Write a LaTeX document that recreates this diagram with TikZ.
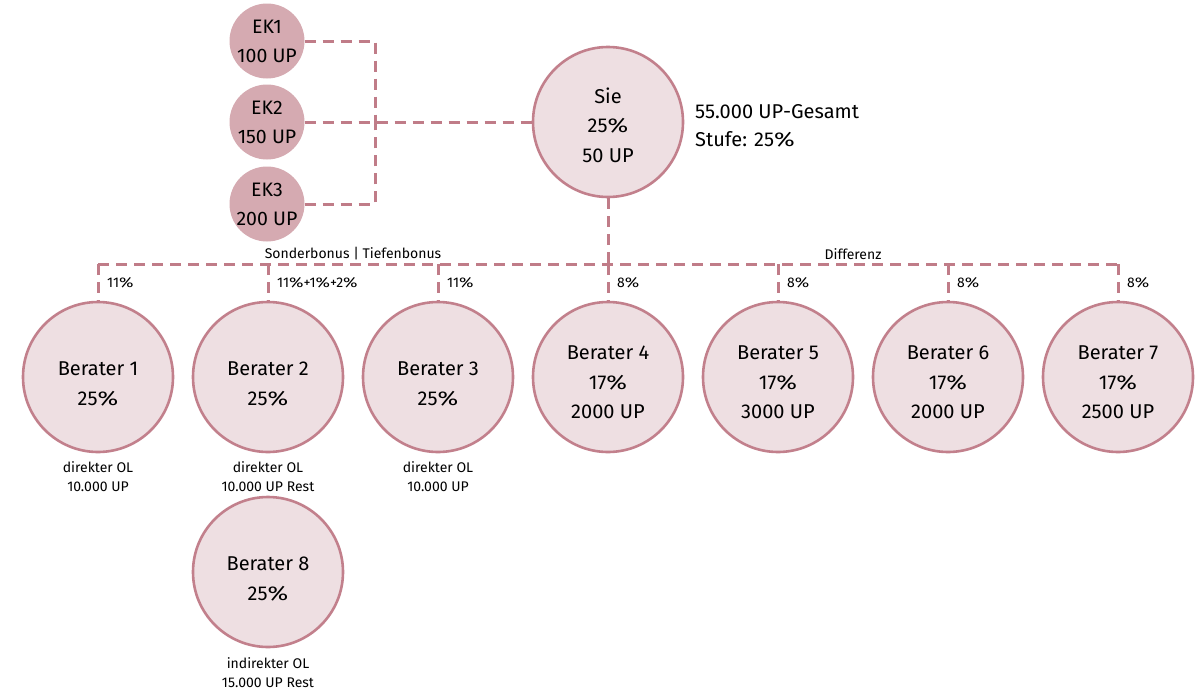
\documentclass[tikz,border=0pt]{standalone}
\usepackage{fontspec}
\setmainfont{Fira Sans}
\newcommand\pcsign{\scalebox{1.25}[1]{\%}}
\definecolor{rimc}{RGB}{194,128,140}
\definecolor{linec}{RGB}{192,124,136}
\definecolor{ekfill}{RGB}{213,170,177}
\definecolor{lightfill}{RGB}{238,223,226}
\begin{document}
\begin{tikzpicture}[x=1pt,y=-1pt,
  bigc/.style={circle,minimum size=150pt,inner sep=0pt,draw=rimc,line width=2.6pt,fill=lightfill},
  bigt/.style={align=center,inner sep=0pt,font=\fontsize{20}{29.5}\selectfont},
  ekc/.style={circle,minimum size=75pt,inner sep=0pt,fill=ekfill,align=center,
    font=\fontsize{19.5}{29}\selectfont},
  conn/.style={draw=linec,line width=3pt,dash pattern=on 11pt off 7pt},
  pct/.style={anchor=west,inner sep=0pt,font=\fontsize{14}{17}\selectfont},
  under/.style={align=center,inner sep=0pt,font=\fontsize{14}{19}\selectfont},
  info/.style={anchor=west,inner sep=0pt,font=\fontsize{20}{28}\selectfont,align=left}]
\useasboundingbox (0,0) rectangle (1200,691);

% EK nodes
\node[ekc] (ek1) at (267,41) {EK1\\100 UP};
\node[ekc] (ek2) at (267,122) {EK2\\150 UP};
\node[ekc] (ek3) at (267,204) {EK3\\200 UP};

% Sie
\node[bigc] (sie) at (608,122) {};
\node[bigt] (siet) at ([yshift=-3pt]sie.center) {Sie\\25\pcsign\\50 UP};
\node[info] (total) at (695,126) {55.000 UP-Gesamt\\Stufe: 25\pcsign};

% junction
\coordinate (j) at (375,122);
\draw[conn] (ek1.east) -| (j);
\draw[conn] (ek3.east) -| (j);
\draw[conn] (ek2.east) -- (sie.west);

% Berater circles
\node[bigc] (b1) at (98,377) {};
\node[bigc] (b2) at (268,377) {};
\node[bigc] (b3) at (438,377) {};
\node[bigc] (b4) at (608,377) {};
\node[bigc] (b5) at (778,377) {};
\node[bigc] (b6) at (948,377) {};
\node[bigc] (b7) at (1118,377) {};
\node[bigc] (b8) at (268,572) {};

% Berater texts
\node[bigt] (b1t) at ([yshift=-7pt]b1.center) {Berater 1\\25\pcsign};
\node[bigt] (b2t) at ([yshift=-7pt]b2.center) {Berater 2\\25\pcsign};
\node[bigt] (b3t) at ([yshift=-7pt]b3.center) {Berater 3\\25\pcsign};
\node[bigt] (b4t) at ([yshift=-5.5pt]b4.center) {Berater 4\\17\pcsign\\2000 UP};
\node[bigt] (b5t) at ([yshift=-5.5pt]b5.center) {Berater 5\\17\pcsign\\3000 UP};
\node[bigt] (b6t) at ([yshift=-5.5pt]b6.center) {Berater 6\\17\pcsign\\2000 UP};
\node[bigt] (b7t) at ([yshift=-5.5pt]b7.center) {Berater 7\\17\pcsign\\2500 UP};
\node[bigt] (b8t) at ([yshift=-7pt]b8.center) {Berater 8\\25\pcsign};

% bus coordinates
\coordinate (h1) at (98,264);
\coordinate (h2) at (268,264);
\coordinate (h3) at (438,264);
\coordinate (h4) at (608,264);
\coordinate (h5) at (778,264);
\coordinate (h6) at (948,264);
\coordinate (h7) at (1118,264);

\draw[conn] (h1) -- (h7);
\draw[conn] (sie.south) -- (h4);
\foreach \i in {1,...,7} {\draw[conn] (h\i) -- (b\i.north);}

% bus labels
\node[pct,anchor=center] (sb) at (353,254) {Sonderbonus | Tiefenbonus};
\node[pct,anchor=center] (diff) at (853,254) {Differenz};

% percent labels
\node[pct] (p1) at (107,283) {11\pcsign};
\node[pct] (p2) at (277,283) {11\pcsign+1\pcsign+2\pcsign};
\node[pct] (p3) at (447,283) {11\pcsign};
\node[pct] (p4) at (617,283) {8\pcsign};
\node[pct] (p5) at (787,283) {8\pcsign};
\node[pct] (p6) at (957,283) {8\pcsign};
\node[pct] (p7) at (1127,283) {8\pcsign};

% under labels
\node[under] (u1) at (98,477) {direkter OL\\10.000 UP};
\node[under] (u2) at (268,477) {direkter OL\\10.000 UP Rest};
\node[under] (u3) at (438,477) {direkter OL\\10.000 UP};
\node[under] (u8) at (268,673) {indirekter OL\\15.000 UP Rest};
\end{tikzpicture}
\end{document}
